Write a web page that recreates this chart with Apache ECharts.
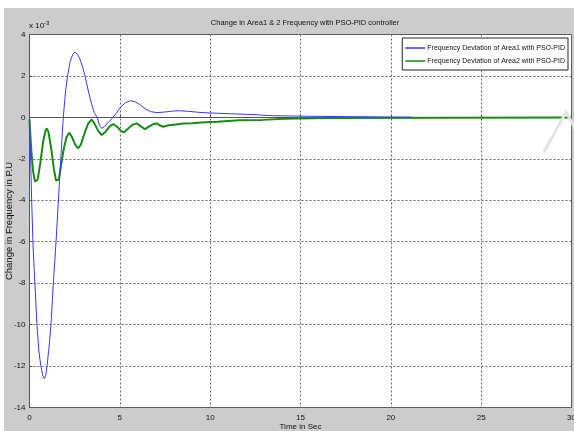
<!DOCTYPE html>
<html>
<head>
<meta charset="utf-8">
<script src="https://cdn.jsdelivr.net/npm/echarts@6/dist/echarts.min.js"></script>
<style>
  html, body { margin: 0; padding: 0; background: #fff; }
  #grafica { width: 574px; height: 431px; }
</style>
</head>
<body>
<div id="grafica"></div>
<script>
// tiempos y valores (x 10^-3)
var tiempoArea1 = [0, 0.05, 0.12, 0.2, 0.3, 0.41, 0.52, 0.63, 0.73, 0.82, 0.9, 0.97, 1.08, 1.19, 1.32, 1.47, 1.6, 1.73, 1.87,
  2.0, 2.11, 2.25, 2.4, 2.52, 2.65, 2.8, 2.95, 3.07, 3.25, 3.45, 3.6, 3.75, 3.88, 4.0, 4.15, 4.35, 4.55, 4.8, 5.05, 5.3, 5.5,
  5.65, 5.85, 6.1, 6.4, 6.7, 7.05, 7.5, 8.0, 8.3, 8.7, 9.3, 10.0, 10.4, 10.5, 12.2, 12.3, 13.5, 13.6, 15.8, 15.9, 21.2]
var valoresArea1 = [0, -1.6, -4, -6.3, -8, -10, -11.3, -12, -12.45, -12.6, -12.45, -12, -11.1, -10, -8, -6, -4, -2, 0,
  1.3, 2, 2.7, 3.05, 3.15, 3.05, 2.8, 2.4, 2, 1.3, 0.6, 0.2, 0, -0.4, -0.53, -0.45, -0.25, -0.07, 0.2, 0.5, 0.7, 0.78,
  0.8, 0.75, 0.62, 0.42, 0.28, 0.23, 0.26, 0.31, 0.32, 0.3, 0.25, 0.21, 0.2, 0.15, 0.14, 0.09, 0.08, 0.05, 0.05, 0.01, 0.01]

var tiempoArea2 = [0, 0.03, 0.1, 0.2, 0.3, 0.36, 0.45, 0.6, 0.75, 0.88, 0.95, 1.05, 1.2, 1.35, 1.47, 1.54, 1.62, 1.75, 1.9,
  2.05, 2.2, 2.35, 2.55, 2.7, 2.85, 3.05, 3.25, 3.44, 3.6, 3.8, 4.0, 4.2, 4.45, 4.64, 4.85, 5.05, 5.23, 5.45, 5.7, 5.93,
  6.15, 6.39, 6.65, 6.85, 7.04, 7.2, 7.4, 7.7, 8.0, 8.5, 9.0, 9.5, 10.0, 10.4, 10.5, 11.6, 11.7, 12.9, 13.0, 14.1, 14.2,
  16.5, 16.6, 30]
var valoresArea2 = [-0.1, -0.6, -1.6, -2.6, -3.1, -3.17, -3.0, -2.2, -1.2, -0.65, -0.53, -0.7, -1.5, -2.5, -3.05, -3.14, -3.0, -2.3, -1.5,
  -0.95, -0.74, -0.95, -1.35, -1.49, -1.3, -0.75, -0.3, -0.1, -0.3, -0.65, -0.85, -0.7, -0.42, -0.32, -0.45, -0.65, -0.72, -0.55, -0.36, -0.29,
  -0.42, -0.57, -0.42, -0.32, -0.29, -0.38, -0.45, -0.38, -0.35, -0.3, -0.28, -0.25, -0.22, -0.21, -0.15, -0.14, -0.12, -0.12, -0.07, -0.07, -0.03,
  -0.03, 0, 0]

var nombresSeries = ['Frequency Deviation of Area1 with PSO-PID', 'Frequency Deviation of Area2 with PSO-PID']
var colores = ['#3838ff', '#168c16']

function pares(t, v) {
  var r = []
  for (var i = 0; i < t.length; i++) r.push([t[i], v[i]])
  return r
}

var fuente = "'Liberation Sans Narrow', 'Liberation Sans', Arial, sans-serif"

myChart = echarts.init(document.getElementById('grafica'))
option = {
  animation: false,
  textStyle: { fontFamily: fuente },
  title: {
    text: 'Change in Area1 & 2 Frequency with PSO-PID controller',
    left: 300, top: 14, textAlign: 'center',
    textStyle: { fontSize: 7.5, fontWeight: 'normal', color: '#111', fontFamily: fuente }
  },
  graphic: [
    { type: 'rect', z: -10, shape: { x: 4, y: 8, width: 570, height: 423 }, style: { fill: '#cccccc' } },
    { type: 'polyline', z: 100, shape: { points: [[544, 152], [566, 112], [578, 134]] },
      style: { stroke: '#e4e4e4', lineWidth: 3, fill: null } },
    { type: 'text', left: 29, top: 20, z: 100,
      style: { text: 'x 10{s|-3}', fontSize: 8, fill: '#111', fontFamily: fuente,
        rich: { s: { fontSize: 6, verticalAlign: 'top', padding: [0, 0, 6, 0] } } } }
  ],
  legend: {
    data: [
      { name: nombresSeries[0], icon: 'rect' },
      { name: nombresSeries[1], icon: 'rect' }
    ],
    orient: 'vertical',
    right: 6, top: 38,
    backgroundColor: '#fff',
    borderColor: '#222', borderWidth: 1, borderRadius: 0,
    padding: [5, 3, 4, 3],
    itemGap: 3,
    itemWidth: 20, itemHeight: 1.5,
    textStyle: { fontSize: 7, color: '#111', fontFamily: fuente, lineHeight: 10, padding: [0, 0, 0, -3] }
  },
  grid: {
    show: true, backgroundColor: '#fff', borderColor: '#555', borderWidth: 1,
    left: 29.5, right: 2.5, top: 34.5, bottom: 23.5,
    containLabel: false, outerBoundsMode: 'none'
  },
  xAxis: {
    type: 'value', min: 0, max: 30, interval: 5,
    name: 'Time in Sec', nameLocation: 'middle', nameGap: 15, nameMoveOverlap: false,
    nameTextStyle: { fontSize: 8, color: '#111' },
    axisLine: { show: true, lineStyle: { color: '#555' } },
    axisTick: { show: true, inside: true, length: 3, lineStyle: { color: '#555' } },
    axisLabel: { fontSize: 8, color: '#111', margin: 6 },
    splitLine: { show: true, lineStyle: { color: '#666', type: [2, 2], width: 1 } }
  },
  yAxis: {
    type: 'value', min: -14, max: 4, interval: 2,
    name: 'Change in Frequency in P.U', nameLocation: 'middle', nameGap: 15.5, nameMoveOverlap: false,
    nameTextStyle: { fontSize: 9.5, color: '#111' },
    axisLine: { show: true, lineStyle: { color: '#555' } },
    axisTick: { show: true, inside: true, length: 3, lineStyle: { color: '#555' } },
    axisLabel: { fontSize: 8, color: '#111', margin: 4 },
    splitLine: { show: true, lineStyle: { color: '#666', type: [2, 2], width: 1 } }
  },
  series: [
    {
      name: nombresSeries[0], type: 'line', symbol: 'none', z: 3,
      data: pares(tiempoArea1, valoresArea1),
      lineStyle: { color: colores[0], width: 1 }, itemStyle: { color: colores[0] }
    },
    {
      name: nombresSeries[1], type: 'line', symbol: 'none', z: 2,
      data: pares(tiempoArea2, valoresArea2),
      lineStyle: { color: colores[1], width: 2 }, itemStyle: { color: colores[1] }
    }
  ]
}
myChart.setOption(option)
</script>
</body>
</html>
